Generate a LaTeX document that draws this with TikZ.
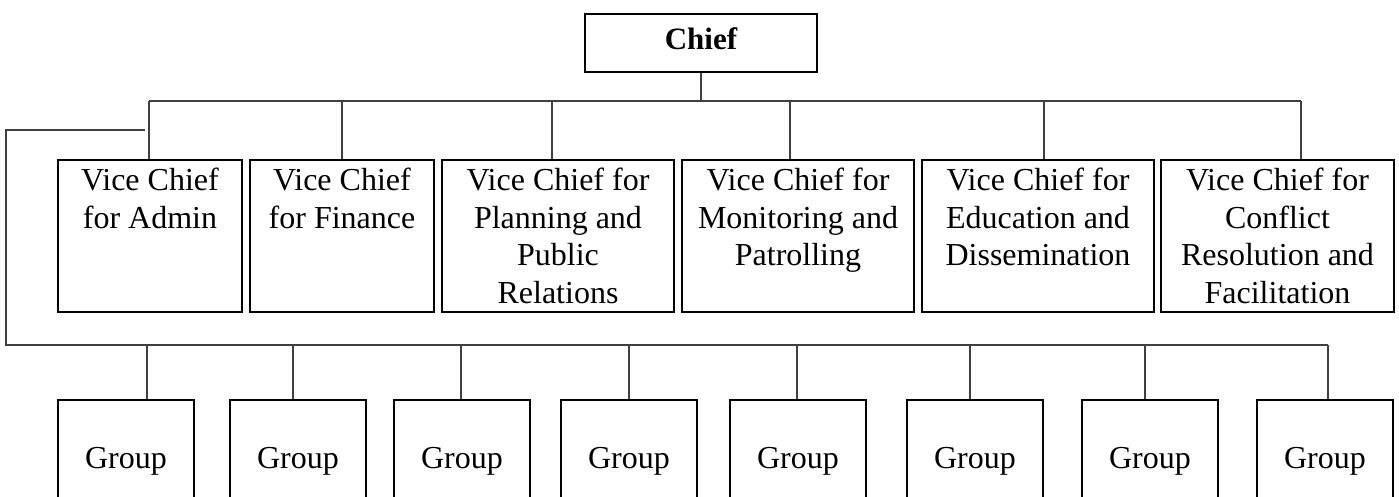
\documentclass[tikz,border=0pt]{standalone}
\usepackage{fontspec}
\setmainfont{Liberation Serif}
\begin{document}
\begin{tikzpicture}[x=0.5pt,y=-0.5pt,
  box/.style={draw=black,line width=1pt,inner sep=0pt,anchor=north west},
  vicebox/.style={box,minimum height=76pt},
  groupbox/.style={box,minimum width=68pt,minimum height=61.7pt,
    font=\fontsize{16}{18.75}\selectfont},
  boxtext/.style={inner sep=0pt,align=center,anchor=north,
    font=\fontsize{16}{18.75}\selectfont},
  conn/.style={draw=black!75,line width=0.65pt},
  connshade/.style={draw=black!15,line width=0.6pt,yshift=-2pt}]
\useasboundingbox (0,0) rectangle (1399,497);
\clip (0,0) rectangle (1399,497);

% top level
\node[box,minimum width=116pt,minimum height=29pt,text depth=4.5pt,
      font=\fontsize{15.5}{18}\selectfont\bfseries] (chief) at (584,13) {Chief};

% vice chiefs
\node[vicebox,minimum width=92pt]    (vc1) at (57,159)   {};
\node[vicebox,minimum width=92pt]    (vc2) at (249,159)  {};
\node[vicebox,minimum width=116pt]   (vc3) at (441,159)  {};
\node[vicebox,minimum width=116pt]   (vc4) at (681,159)  {};
\node[vicebox,minimum width=116pt]   (vc5) at (921,159)  {};
\node[vicebox,minimum width=116.5pt] (vc6) at (1160,159) {};

\node[boxtext] (vc1t) at ([yshift=-4.5pt]vc1.north) {Vice Chief\\for Admin};
\node[boxtext] (vc2t) at ([yshift=-4.5pt]vc2.north) {Vice Chief\\for Finance};
\node[boxtext] (vc3t) at ([yshift=-4.5pt]vc3.north) {Vice Chief for\\Planning and\\Public\\Relations};
\node[boxtext] (vc4t) at ([yshift=-4.5pt]vc4.north) {Vice Chief for\\Monitoring and\\Patrolling};
\node[boxtext] (vc5t) at ([yshift=-4.5pt]vc5.north) {Vice Chief for\\Education and\\Dissemination};
\node[boxtext] (vc6t) at ([yshift=-4.5pt]vc6.north) {Vice Chief for\\Conflict\\Resolution and\\Facilitation};

% groups
\node[groupbox] (g1) at (57,399)   {Group};
\node[groupbox] (g2) at (229,399)  {Group};
\node[groupbox] (g3) at (393,399)  {Group};
\node[groupbox] (g4) at (560,399)  {Group};
\node[groupbox] (g5) at (729,399)  {Group};
\node[groupbox] (g6) at (906,399)  {Group};
\node[groupbox] (g7) at (1081,399) {Group};
\node[groupbox] (g8) at (1256,399) {Group};

% bus points
\coordinate (d1) at (149,101);
\coordinate (d2) at (342,101);
\coordinate (d3) at (552,101);
\coordinate (d4) at (790,101);
\coordinate (d5) at (1044,101);
\coordinate (d6) at (1301,101);
\coordinate (l1) at (145,130);
\coordinate (l2) at (6,130);
\coordinate (l3) at (6,345);
\coordinate (e1) at (147,345);
\coordinate (e2) at (293,345);
\coordinate (e3) at (461,345);
\coordinate (e4) at (629,345);
\coordinate (e5) at (797,345);
\coordinate (e6) at (970,345);
\coordinate (e7) at (1145,345);
\coordinate (e8) at (1328,345);

% light under-lines of the buses
\draw[connshade] (d1) -- (d6);
\draw[connshade] ([xshift=1pt]l2) -- (l1);
\draw[connshade] ([xshift=1pt]l3) -- (e8);

% connectors
\draw[conn] (chief.south) -- (chief.south |- d1);
\draw[conn] (d1) -- (d6);
\foreach \i in {1,...,6} {\draw[conn] (d\i) -- (d\i |- vc\i.north);}
\draw[conn] (l1) -- (l2) -- (l3) -- (e8);
\foreach \i in {1,...,8} {\draw[conn] (e\i) -- (e\i |- g\i.north);}
\end{tikzpicture}
\end{document}
